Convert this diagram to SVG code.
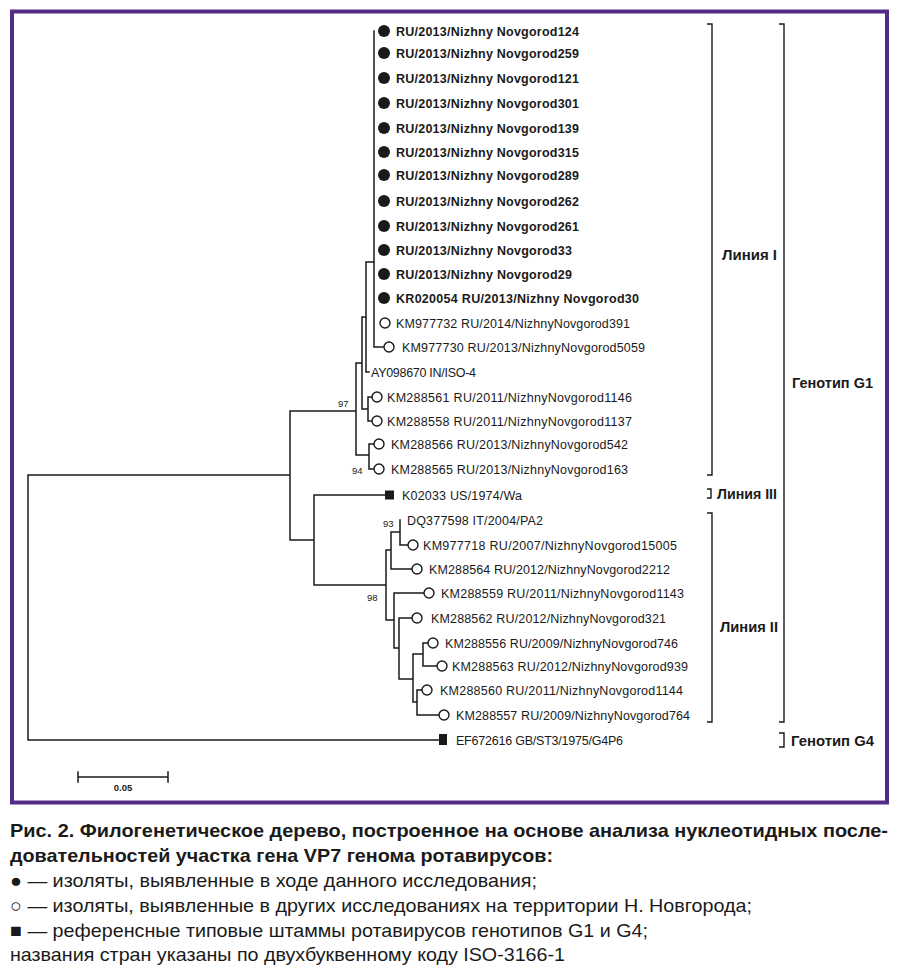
<svg xmlns="http://www.w3.org/2000/svg" width="899" height="976" viewBox="0 0 899 976">
<style>
.br{fill:none;stroke:#1a1a1a;stroke-width:1.5;stroke-linecap:square}
.bk{fill:none;stroke:#1a1a1a;stroke-width:1.4}
.t{font-family:"Liberation Sans",Arial,sans-serif;font-size:12.5px;fill:#1a1a1a}
.tb{font-family:"Liberation Sans",Arial,sans-serif;font-size:12.5px;font-weight:bold;fill:#1a1a1a}
.bs{font-family:"Liberation Sans",Arial,sans-serif;font-size:9.5px;fill:#1a1a1a}
.gl{font-family:"Liberation Sans",Arial,sans-serif;font-size:14.5px;font-weight:bold;fill:#1a1a1a}
.cap{font-family:"Liberation Sans Narrow","Liberation Sans",Arial,sans-serif;font-size:19px;fill:#1a1a1a}
.capb{font-family:"Liberation Sans Narrow","Liberation Sans",Arial,sans-serif;font-size:19px;font-weight:bold;fill:#1a1a1a}
.fc{fill:#1a1a1a}
.oc{fill:#fff;stroke:#1a1a1a;stroke-width:1.4}
.sq{fill:#1a1a1a}
</style>
<rect x="12" y="11.5" width="875" height="791" fill="none" stroke="#532b88" stroke-width="4"/>

<g id="connectors">
<path class="br" d="M28,475V740 M28,475H290 M28,740H439
M290,411V540 M290,411H356
M356,363V455 M356,363H362
M362,317V409 M362,317H366
M366,262V372 M366,372H369 M366,262H374
M374,31V347 M374,347H383
M362,409H368 M368,397V421 M368,397H372 M368,421H372
M356,455H369 M369,444V469 M369,444H374 M369,469H374
M290,540H314 M314,495V585 M314,495H385 M314,585H386
M386,550V620 M386,550H391
M391,532V569 M391,532H400
M400,520V545 M400,545H408 M391,569H412
M386,620H394 M394,593V648 M394,593H424
M394,648H399 M399,618V679 M399,618H412
M399,679H413 M413,654V702 M413,654H423
M423,643V666 M423,643H428 M423,666H437
M413,702H417 M417,690V715 M417,690H422 M417,715H439"/>
</g>

<g id="bootstrap">
<text class="bs" x="338" y="407">97</text>
<text class="bs" x="352" y="474">94</text>
<text class="bs" x="383" y="527">93</text>
<text class="bs" x="367" y="601">98</text>
</g>

<g id="n124"><circle class="fc" cx="384" cy="31" r="6"/><text class="tb" x="396" y="35.5" textLength="183">RU/2013/Nizhny Novgorod124</text></g>
<g id="n259"><circle class="fc" cx="384" cy="53" r="6"/><text class="tb" x="396" y="57.5" textLength="183">RU/2013/Nizhny Novgorod259</text></g>
<g id="n121"><circle class="fc" cx="384" cy="78" r="6"/><text class="tb" x="396" y="82.5" textLength="183">RU/2013/Nizhny Novgorod121</text></g>
<g id="n301"><circle class="fc" cx="384" cy="103" r="6"/><text class="tb" x="396" y="107.5" textLength="183">RU/2013/Nizhny Novgorod301</text></g>
<g id="n139"><circle class="fc" cx="384" cy="128" r="6"/><text class="tb" x="396" y="132.5" textLength="183">RU/2013/Nizhny Novgorod139</text></g>
<g id="n315"><circle class="fc" cx="384" cy="152" r="6"/><text class="tb" x="396" y="156.5" textLength="183">RU/2013/Nizhny Novgorod315</text></g>
<g id="n289"><circle class="fc" cx="384" cy="175" r="6"/><text class="tb" x="396" y="179.5" textLength="183">RU/2013/Nizhny Novgorod289</text></g>
<g id="n262"><circle class="fc" cx="384" cy="201" r="6"/><text class="tb" x="396" y="205.5" textLength="183">RU/2013/Nizhny Novgorod262</text></g>
<g id="n261"><circle class="fc" cx="384" cy="226" r="6"/><text class="tb" x="396" y="230.5" textLength="183">RU/2013/Nizhny Novgorod261</text></g>
<g id="n33"><circle class="fc" cx="384" cy="250" r="6"/><text class="tb" x="396" y="254.5" textLength="176">RU/2013/Nizhny Novgorod33</text></g>
<g id="n29"><circle class="fc" cx="384" cy="274" r="6"/><text class="tb" x="396" y="278.5" textLength="176">RU/2013/Nizhny Novgorod29</text></g>
<g id="n30"><circle class="fc" cx="384" cy="298" r="6"/><text class="tb" x="396" y="302.5" textLength="243">KR020054 RU/2013/Nizhny Novgorod30</text></g>
<g id="n391"><circle class="oc" cx="385" cy="323" r="5"/><text class="t" x="396" y="327.5" textLength="234">KM977732 RU/2014/NizhnyNovgorod391</text></g>
<g id="n5059"><circle class="oc" cx="389" cy="347" r="5"/><text class="t" x="402" y="351.5" textLength="243">KM977730 RU/2013/NizhnyNovgorod5059</text></g>
<g id="iso4"><text class="t" x="371" y="376.5" textLength="105">AY098670 IN/ISO-4</text></g>
<g id="n1146"><circle class="oc" cx="377" cy="397" r="5"/><text class="t" x="387" y="401.5" textLength="245">KM288561 RU/2011/NizhnyNovgorod1146</text></g>
<g id="n1137"><circle class="oc" cx="377" cy="421" r="5"/><text class="t" x="387" y="425.5" textLength="245">KM288558 RU/2011/NizhnyNovgorod1137</text></g>
<g id="n542"><circle class="oc" cx="379" cy="444" r="5"/><text class="t" x="391" y="448.5" textLength="237">KM288566 RU/2013/NizhnyNovgorod542</text></g>
<g id="n163"><circle class="oc" cx="379" cy="469" r="5"/><text class="t" x="391" y="473.5" textLength="237">KM288565 RU/2013/NizhnyNovgorod163</text></g>
<g id="wa"><rect class="sq" x="385" y="490.5" width="9" height="9"/><text class="t" x="402" y="499.5" textLength="120">K02033 US/1974/Wa</text></g>
<g id="pa2"><text class="t" x="407" y="524.5" textLength="136">DQ377598 IT/2004/PA2</text></g>
<g id="n15005"><circle class="oc" cx="413" cy="545" r="5"/><text class="t" x="423" y="549.5" textLength="254">KM977718 RU/2007/NizhnyNovgorod15005</text></g>
<g id="n2212"><circle class="oc" cx="417" cy="569" r="5"/><text class="t" x="429" y="573.5" textLength="241">KM288564 RU/2012/NizhnyNovgorod2212</text></g>
<g id="n1143"><circle class="oc" cx="429" cy="593" r="5"/><text class="t" x="441" y="597.5" textLength="243">KM288559 RU/2011/NizhnyNovgorod1143</text></g>
<g id="n321"><circle class="oc" cx="417" cy="618" r="5"/><text class="t" x="431" y="622.5" textLength="235">KM288562 RU/2012/NizhnyNovgorod321</text></g>
<g id="n746"><circle class="oc" cx="433" cy="643" r="5"/><text class="t" x="445" y="647.5" textLength="233">KM288556 RU/2009/NizhnyNovgorod746</text></g>
<g id="n939"><circle class="oc" cx="442" cy="666" r="5"/><text class="t" x="452" y="670.5" textLength="236">KM288563 RU/2012/NizhnyNovgorod939</text></g>
<g id="n1144"><circle class="oc" cx="427" cy="690" r="5"/><text class="t" x="440" y="694.5" textLength="243">KM288560 RU/2011/NizhnyNovgorod1144</text></g>
<g id="n764"><circle class="oc" cx="444" cy="715" r="5"/><text class="t" x="456" y="719.5" textLength="234">KM288557 RU/2009/NizhnyNovgorod764</text></g>
<g id="g4p6"><rect class="sq" x="439" y="734" width="8" height="11"/><text class="t" x="456" y="744.5" textLength="167">EF672616 GB/ST3/1975/G4P6</text></g>

<g id="lineage1"><path class="bk" d="M707,24H712V475H707"/><text class="gl" x="722" y="260" textLength="55" lengthAdjust="spacingAndGlyphs">Линия I</text></g>
<g id="lineage3"><path class="bk" d="M707,489H711V498H707"/><text class="gl" x="717" y="499" textLength="60" lengthAdjust="spacingAndGlyphs">Линия III</text></g>
<g id="lineage2"><path class="bk" d="M707,513H712V722H707"/><text class="gl" x="720" y="632" textLength="58" lengthAdjust="spacingAndGlyphs">Линия II</text></g>
<g id="genotypeG1"><path class="bk" d="M779,24H784V722H779"/><text class="gl" x="792" y="388" font-size="16" textLength="81" lengthAdjust="spacingAndGlyphs">Генотип G1</text></g>
<g id="genotypeG4"><path class="bk" d="M779,733H784V747H779"/><text class="gl" x="791" y="746" font-size="16" textLength="83" lengthAdjust="spacingAndGlyphs">Генотип G4</text></g>

<g id="scalebar"><path class="br" d="M78,777H168 M78,772V782 M168,772V782"/><text class="bs" x="123" y="791" text-anchor="middle" font-weight="bold">0.05</text></g>

<g id="caption">
<text class="capb" x="10" y="837" textLength="878" lengthAdjust="spacingAndGlyphs">Рис. 2. Филогенетическое дерево, построенное на основе анализа нуклеотидных после-</text>
<text class="capb" x="10" y="862" textLength="543" lengthAdjust="spacingAndGlyphs">довательностей участка гена VP7 генома ротавирусов:</text>
<text class="cap" x="10" y="887" textLength="527" lengthAdjust="spacingAndGlyphs">● — изоляты, выявленные в ходе данного исследования;</text>
<text class="cap" x="10" y="912" textLength="742" lengthAdjust="spacingAndGlyphs">○ — изоляты, выявленные в других исследованиях на территории Н. Новгорода;</text>
<text class="cap" x="10" y="937" textLength="638" lengthAdjust="spacingAndGlyphs">■ — референсные типовые штаммы ротавирусов генотипов G1 и G4;</text>
<text class="cap" x="10" y="961" textLength="555" lengthAdjust="spacingAndGlyphs">названия стран указаны по двухбуквенному коду ISO-3166-1</text>
</g>
</svg>
